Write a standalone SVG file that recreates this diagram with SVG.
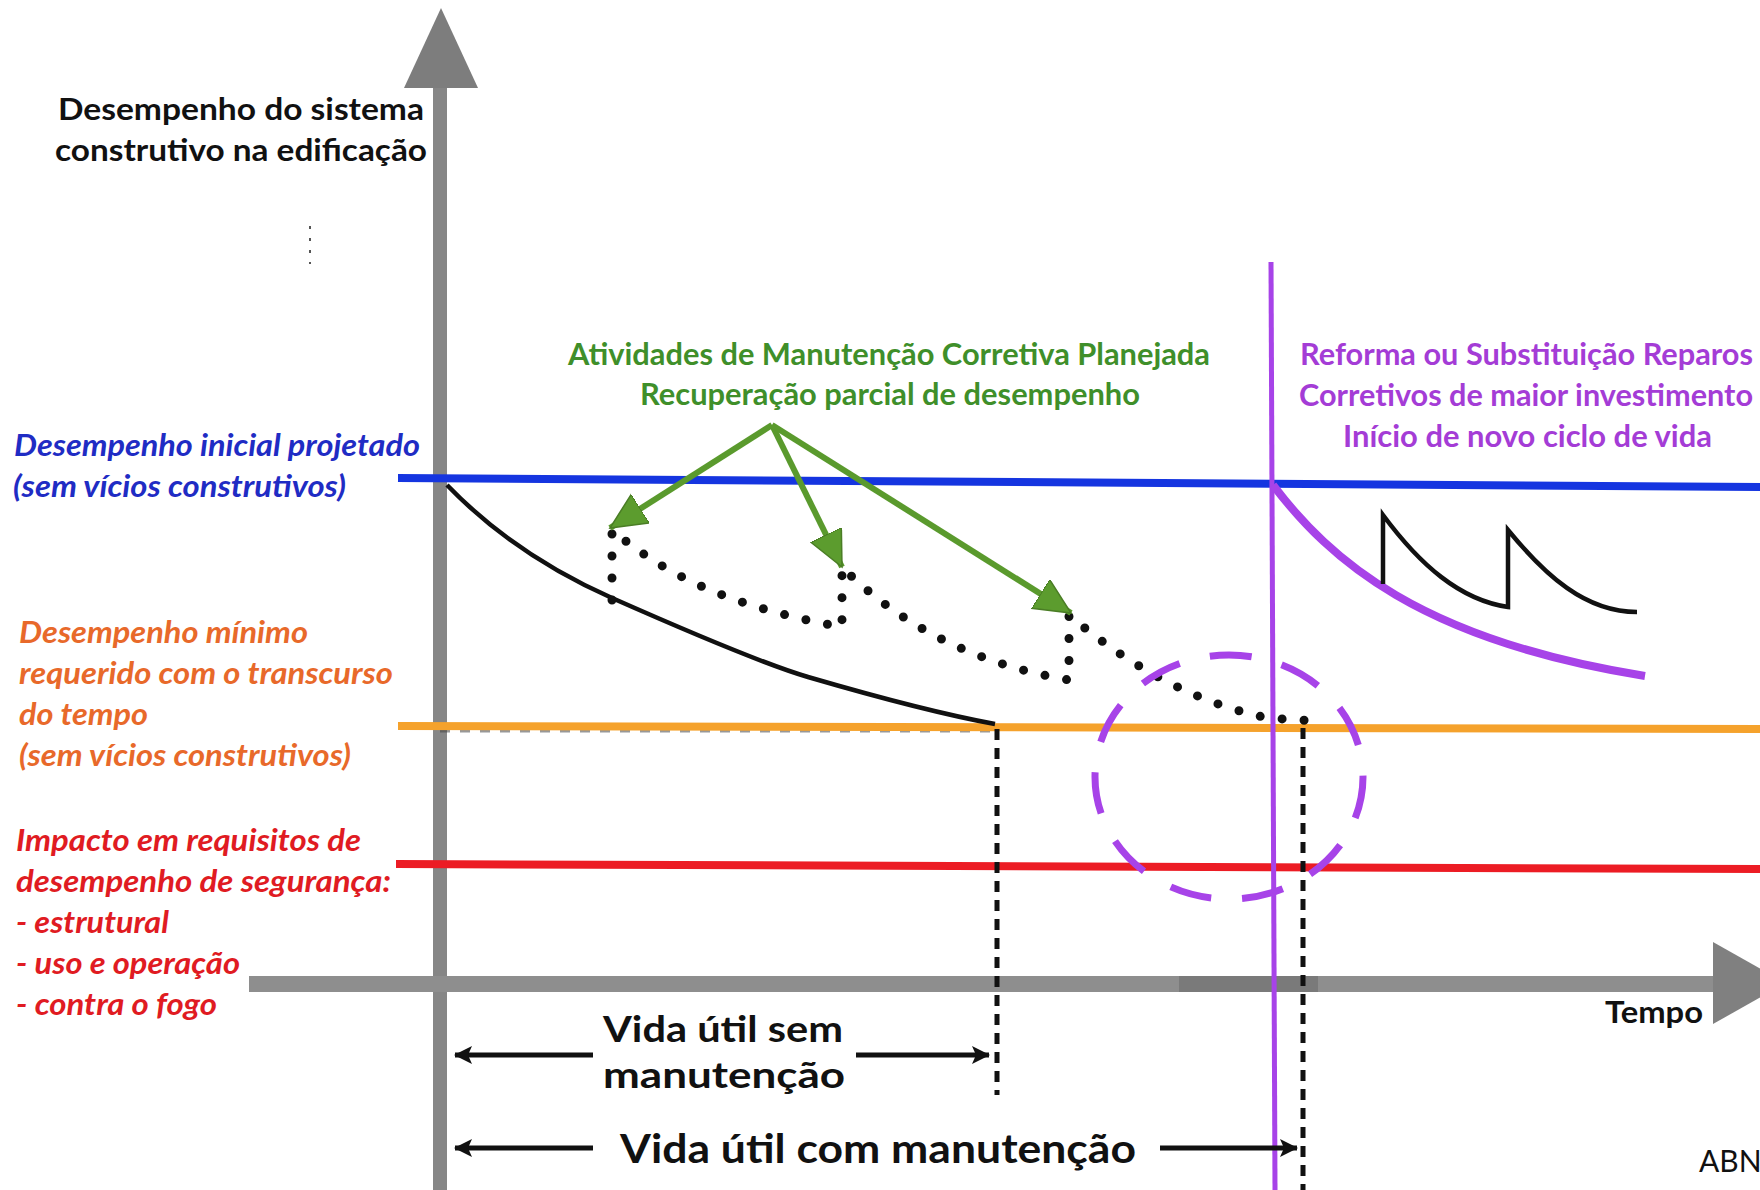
<svg xmlns="http://www.w3.org/2000/svg" width="1760" height="1190" viewBox="0 0 1760 1190">
  <style>
    .lbl { font-family: Lato, "Open Sans", "Liberation Sans", sans-serif; font-weight: bold; font-size: 30px; }
    .it { font-style: italic; }
    .blue { fill: #1f2cc4; }
    .orange { fill: #e8692a; }
    .red { fill: #e01b22; }
    .green { fill: #3f8f2a; }
    .purple { fill: #a43cd6; }
    .blk { fill: #111; }
    .dim { font-family: Lato, "Open Sans", "Liberation Sans", sans-serif; font-weight: bold; font-size: 40px; fill: #111; }
    .dim2 { font-family: Lato, "Open Sans", "Liberation Sans", sans-serif; font-weight: bold; font-size: 37px; fill: #111; }
    .dots { fill: none; stroke: #111; stroke-width: 9; stroke-linecap: round; stroke-dasharray: 0 22; }
    .vdash { fill: none; stroke: #111; stroke-width: 5; stroke-dasharray: 11 8; }
    .garrow { stroke: #5a9a2d; stroke-width: 6; fill: none; }
    .darrow { stroke: #111; stroke-width: 5; fill: none; }
  </style>
  <defs>
    <marker id="gHead" markerUnits="userSpaceOnUse" markerWidth="40" markerHeight="36" refX="36" refY="17" orient="auto">
      <path d="M0,0 L36,17 L0,34 Z" fill="#5c9c2e" stroke="#4a7d25" stroke-width="1.5"/>
    </marker>
    <marker id="bHead" markerUnits="userSpaceOnUse" markerWidth="20" markerHeight="20" refX="17" refY="9" orient="auto">
      <path d="M0,0 L18,9 L0,18 L4,9 Z" fill="#111"/>
    </marker>
  </defs>
  <rect x="0" y="0" width="1760" height="1190" fill="#ffffff"/>

  <g id="axes">
    <rect x="433" y="84" width="14" height="1106" fill="#868686"/>
    <polygon points="441,8 404,88 478,88" fill="#7d7d7d"/>
    <rect x="249" y="976" width="1466" height="16" fill="#8e8e8e"/>
    <rect x="1179" y="976" width="139" height="16" fill="#7a7a7a"/>
    <polygon points="1713,942 1713,1024 1786,983" fill="#808080"/>
    <line x1="310" y1="226" x2="310" y2="264" stroke="#555" stroke-width="2" stroke-dasharray="3 9"/>
  </g>

  <g id="reference-lines">
    <line x1="440" y1="731" x2="1000" y2="731" stroke="#444" stroke-width="3" stroke-dasharray="10 10" opacity="0.55"/>
    <line x1="398" y1="478" x2="1760" y2="487" stroke="#1535e0" stroke-width="8"/>
    <line x1="398" y1="726" x2="1760" y2="729" stroke="#f5a22c" stroke-width="8"/>
    <line x1="396" y1="864" x2="1760" y2="869" stroke="#ec1c24" stroke-width="8"/>
  </g>

  <g id="curves">
    <path d="M447,485 C500,540 560,575 612,598 S760,663 808,677 S940,714 995,724" fill="none" stroke="#111" stroke-width="4.5"/>
    <path class="dots" d="M612,600 L612,530 C660,570 720,605 842,627 L842,567 C880,605 950,660 1069,680 L1069,615 C1110,650 1180,700 1268,718 L1315,721"/>
    <line class="vdash" x1="997" y1="729" x2="997" y2="1095"/>
    <line class="vdash" x1="1303" y1="728" x2="1303" y2="1190"/>
    <line x1="1271" y1="262" x2="1275" y2="1190" stroke="#a743e8" stroke-width="5"/>
    <path d="M1273,485 C1330,560 1420,640 1645,676" fill="none" stroke="#a743e8" stroke-width="8"/>
    <path d="M1383,584 L1383,515 C1420,565 1460,600 1508,607 L1508,530 C1545,575 1585,612 1637,612" fill="none" stroke="#111" stroke-width="4.5"/>
    <ellipse cx="1229" cy="777" rx="134" ry="122" fill="none" stroke="#a743e8" stroke-width="7" stroke-dasharray="42 31"/>
  </g>

  <g id="connectors">
    <line class="garrow" x1="772" y1="425" x2="610" y2="528" marker-end="url(#gHead)"/>
    <line class="garrow" x1="772" y1="425" x2="842" y2="567" marker-end="url(#gHead)"/>
    <line class="garrow" x1="772" y1="425" x2="1071" y2="613" marker-end="url(#gHead)"/>
    <line class="darrow" x1="593" y1="1055" x2="455" y2="1055" marker-end="url(#bHead)"/>
    <line class="darrow" x1="856" y1="1055" x2="989" y2="1055" marker-end="url(#bHead)"/>
    <line class="darrow" x1="593" y1="1148" x2="455" y2="1148" marker-end="url(#bHead)"/>
    <line class="darrow" x1="1160" y1="1148" x2="1297" y2="1148" marker-end="url(#bHead)"/>
  </g>

  <g id="label-yaxis">
    <text class="lbl blk" x="58" y="120" textLength="366" lengthAdjust="spacingAndGlyphs">Desempenho do sistema</text>
    <text class="lbl blk" x="55" y="161" textLength="372" lengthAdjust="spacingAndGlyphs">construtivo na edificação</text>
  </g>
  <g id="label-initial">
    <text class="lbl it blue" x="14" y="456" textLength="406" lengthAdjust="spacingAndGlyphs">Desempenho inicial projetado</text>
    <text class="lbl it blue" x="13" y="497" textLength="333" lengthAdjust="spacingAndGlyphs">(sem vícios construtivos)</text>
  </g>
  <g id="label-minimum">
    <text class="lbl it orange" x="19" y="643" textLength="289" lengthAdjust="spacingAndGlyphs">Desempenho mínimo</text>
    <text class="lbl it orange" x="19" y="684" textLength="374" lengthAdjust="spacingAndGlyphs">requerido com o transcurso</text>
    <text class="lbl it orange" x="19" y="725" textLength="129" lengthAdjust="spacingAndGlyphs">do tempo</text>
    <text class="lbl it orange" x="19" y="766" textLength="332" lengthAdjust="spacingAndGlyphs">(sem vícios construtivos)</text>
  </g>
  <g id="label-safety">
    <text class="lbl it red" x="16" y="851" textLength="345" lengthAdjust="spacingAndGlyphs">Impacto em requisitos de</text>
    <text class="lbl it red" x="16" y="892" textLength="375" lengthAdjust="spacingAndGlyphs">desempenho de segurança:</text>
    <text class="lbl it red" x="16" y="933" textLength="153" lengthAdjust="spacingAndGlyphs">- estrutural</text>
    <text class="lbl it red" x="16" y="974" textLength="224" lengthAdjust="spacingAndGlyphs">- uso e operação</text>
    <text class="lbl it red" x="16" y="1015" textLength="201" lengthAdjust="spacingAndGlyphs">- contra o fogo</text>
  </g>
  <g id="label-maintenance">
    <text class="lbl green" x="568" y="365" textLength="642" lengthAdjust="spacingAndGlyphs">Atividades de Manutenção Corretiva Planejada</text>
    <text class="lbl green" x="640" y="405" textLength="500" lengthAdjust="spacingAndGlyphs">Recuperação parcial de desempenho</text>
  </g>
  <g id="label-reform">
    <text class="lbl purple" x="1300" y="365" textLength="453" lengthAdjust="spacingAndGlyphs">Reforma ou Substituição Reparos</text>
    <text class="lbl purple" x="1299" y="406" textLength="454" lengthAdjust="spacingAndGlyphs">Corretivos de maior investimento</text>
    <text class="lbl purple" x="1343" y="447" textLength="369" lengthAdjust="spacingAndGlyphs">Início de novo ciclo de vida</text>
  </g>
  <g id="label-time">
    <text class="lbl blk" x="1605" y="1023" textLength="98" lengthAdjust="spacingAndGlyphs">Tempo</text>
  </g>
  <g id="label-life-without">
    <text class="dim2" x="603" y="1042" textLength="240" lengthAdjust="spacingAndGlyphs">Vida útil sem</text>
    <text class="dim2" x="603" y="1088" textLength="242" lengthAdjust="spacingAndGlyphs">manutenção</text>
  </g>
  <g id="label-life-with">
    <text class="dim" x="620" y="1163" textLength="516" lengthAdjust="spacingAndGlyphs">Vida útil com manutenção</text>
  </g>
  <g id="label-source">
    <text x="1699" y="1172" font-family="Lato, 'Open Sans', 'Liberation Sans', sans-serif" font-size="30" fill="#111">ABN</text>
  </g>
</svg>
